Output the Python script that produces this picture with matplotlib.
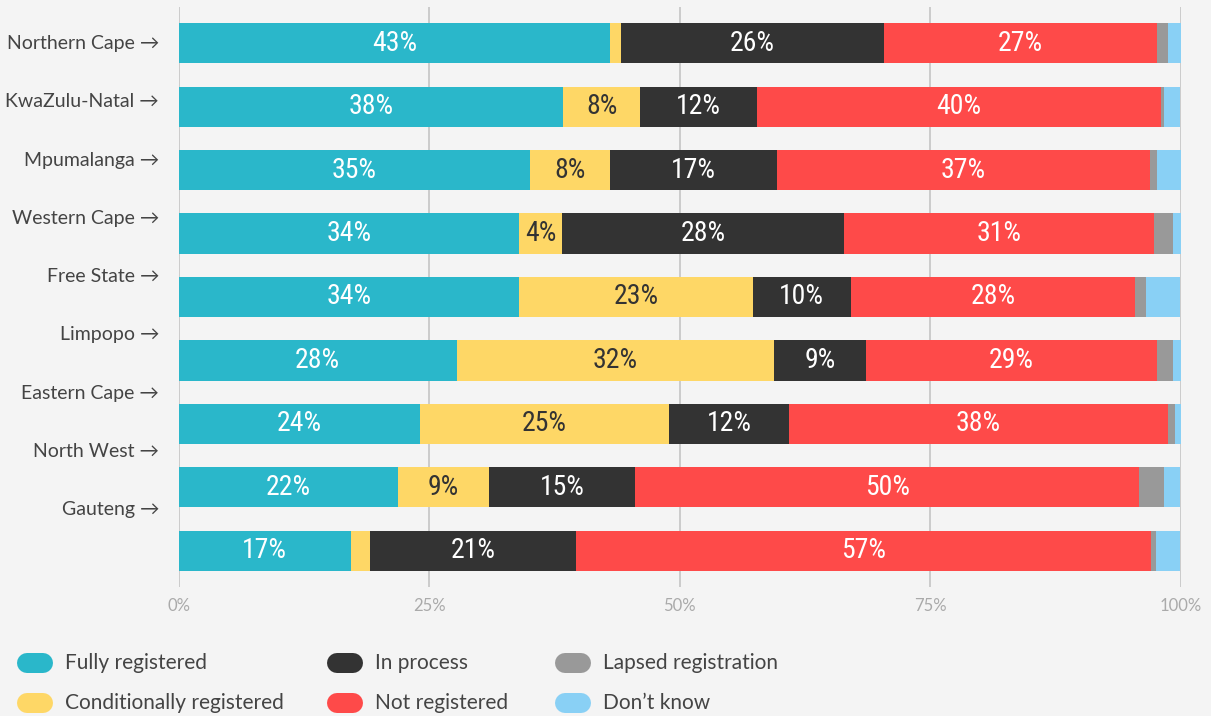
import matplotlib.pyplot as plt
import numpy as np
from matplotlib.lines import Line2D

provinces = ["Northern Cape", "KwaZulu-Natal", "Mpumalanga", "Western Cape", "Free State",
             "Limpopo", "Eastern Cape", "North West", "Gauteng"]

categories = ["Fully registered", "Conditionally registered", "In process",
              "Not registered", "Lapsed registration", "Don\u2019t know"]

fully = [43.1, 38.4, 35.1, 34.0, 34.0, 27.8, 24.1, 21.9, 17.2]
conditional = [1.1, 7.7, 8.0, 4.3, 23.3, 31.6, 24.9, 9.1, 1.9]
in_process = [26.2, 11.6, 16.6, 28.1, 9.8, 9.2, 11.9, 14.6, 20.6]
not_registered = [27.3, 40.4, 37.3, 31.0, 28.4, 29.1, 37.9, 50.3, 57.4]
lapsed = [1.1, 0.3, 0.7, 1.9, 1.1, 1.6, 0.7, 2.5, 0.5]
dont_know = [1.2, 1.6, 2.3, 0.7, 3.4, 0.7, 0.5, 1.6, 2.4]

x_ticks = [0, 25, 50, 75, 100]
x_tick_labels = ["0%", "25%", "50%", "75%", "100%"]

colors = ["#2ab7ca", "#fed766", "#333333", "#fe4a49", "#999999", "#89d0f5"]
text_colors = ["white", "#333333", "white", "white", "white", "#333333"]
BG = "#f4f4f4"

W, H = 1211, 716
fig = plt.figure(figsize=(W / 100, H / 100), dpi=100, facecolor=BG)
ax = fig.add_axes([178.5 / W, 1 - 587 / H, (1180.5 - 178.5) / W, (587 - 7) / H])
ax.set_facecolor(BG)

series = [fully, conditional, in_process, not_registered, lapsed, dont_know]
y = np.arange(len(provinces))
left = np.zeros(len(provinces))
for vals, col, tcol in zip(series, colors, text_colors):
    vals = np.array(vals)
    ax.barh(y, vals, left=left, height=0.63, color=col, zorder=3, linewidth=0)
    for yi, (l, v) in enumerate(zip(left, vals)):
        if v >= 4:
            ax.text(l + v / 2, yi, f"{v:.0f}%", ha="center", va="center", color=tcol,
                    fontsize=20, family=["Roboto Condensed", "DejaVu Sans"],
                    fontstretch="condensed", zorder=4)
    left += vals

ax.set_xlim(0, 100)
ax.set_ylim(8.567, -0.567)

# province labels sit on a slightly tighter spacing than the bars
label_step = 58.3 / 63.5
ax.set_yticks(y * label_step - 0.016)
ax.set_yticklabels([p + " \u2192" for p in provinces], family=["Lato", "DejaVu Sans"],
                   fontsize=14, color="#444444")
ax.set_xticks(x_ticks)
ax.set_xticklabels(x_tick_labels, family=["Lato", "DejaVu Sans"], fontsize=12,
                   color="#aaaaaa")
ax.tick_params(axis="y", length=0, pad=14)
ax.tick_params(axis="x", length=0, pad=8)
for s in ax.spines.values():
    s.set_visible(False)
ax.grid(axis="x", color="#c4c4c4", linewidth=1.2, zorder=1)
ax.set_axisbelow(True)

# legend: pill markers laid out in 3 columns x 2 rows
col_x = [17, 327, 555]
row_y = [663, 703]
for i, (name, col) in enumerate(zip(categories, colors)):
    cx, ry = col_x[i // 2], row_y[i % 2]
    fig.add_artist(Line2D([(cx + 10) / W, (cx + 26) / W], [1 - ry / H] * 2,
                          transform=fig.transFigure, color=col, lw=14.4,
                          solid_capstyle="round"))
    fig.text((cx + 48) / W, 1 - ry / H, name, ha="left", va="center", fontsize=15,
             color="#444444", family=["Lato", "DejaVu Sans"])

fig.savefig("out.png", dpi=100, facecolor=BG)
